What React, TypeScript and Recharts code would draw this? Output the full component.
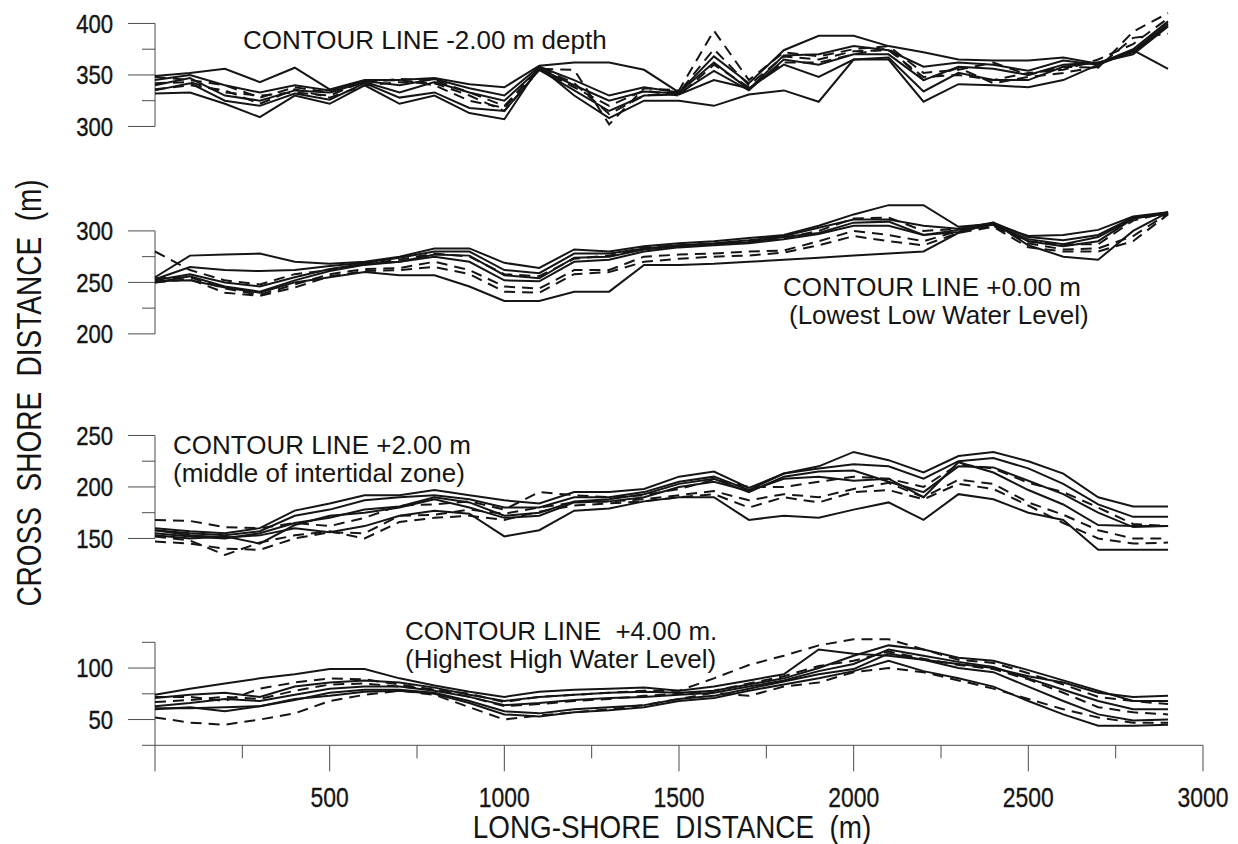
import { LineChart, Line, XAxis, YAxis, ReferenceLine } from "recharts";

// long-shore positions of the surveyed profiles (m)
const X = [0, 100, 200, 300, 400, 500, 600, 700, 800, 900, 1000, 1100, 1200, 1300, 1400, 1500, 1600, 1700, 1800, 1900, 2000, 2100, 2200, 2300, 2400, 2500, 2600, 2700, 2800, 2900];
const X_TICKS = [0, 250, 500, 750, 1000, 1250, 1500, 1750, 2000, 2250, 2500, 2750, 3000];

// contour -2.00 m depth
const P1_TICKS = [300, 325, 350, 375, 400];
const P1_A = [349, 352, 356, 343, 357, 336, 345, 345, 347, 341, 338, 359, 362, 362, 355, 333, 368, 342, 374, 388, 388, 378, 372, 365, 364, 364, 367, 361, 375, 402];
const P1_B = [345, 350, 340, 333, 340, 335, 344, 340, 346, 337, 330, 358, 345, 330, 338, 333, 362, 336, 369, 370, 378, 374, 358, 362, 360, 354, 364, 360, 373, 400];
const P1_C = [340, 347, 330, 325, 335, 333, 343, 333, 343, 333, 325, 356, 340, 325, 334, 332, 354, 335, 365, 360, 370, 370, 345, 358, 356, 350, 360, 362, 372, 398];
const P1_D = [335, 342, 325, 320, 332, 326, 342, 328, 333, 318, 315, 355, 335, 315, 330, 331, 345, 337, 360, 348, 365, 367, 334, 352, 345, 345, 358, 362, 370, 397];
const P1_E = [332, 333, 322, 309, 330, 322, 340, 322, 330, 313, 307, 358, 330, 308, 325, 325, 320, 331, 335, 324, 365, 365, 324, 341, 340, 338, 345, 360, 374, 356];
const P1_F = [348, 345, 340, 328, 338, 333, 343, 346, 345, 333, 320, 356, 355, 302, 337, 335, 393, 345, 372, 368, 375, 378, 352, 355, 362, 350, 358, 357, 392, 410];
const P1_G = [342, 343, 333, 330, 333, 330, 344, 345, 340, 325, 318, 357, 342, 312, 330, 333, 375, 340, 368, 365, 373, 374, 348, 350, 345, 352, 355, 365, 380, 405];
const P1_H = [336, 340, 335, 322, 336, 328, 340, 343, 342, 330, 315, 355, 338, 320, 335, 330, 360, 338, 362, 362, 370, 376, 345, 357, 342, 348, 352, 358, 386, 390];

// contour +0.00 m (lowest low water level)
const P2_TICKS = [200, 225, 250, 275, 300];
const P2_A = [255, 276, 277, 278, 270, 268, 270, 275, 283, 283, 269, 264, 282, 280, 285, 288, 290, 293, 296, 305, 316, 325, 325, 304, 307, 295, 296, 301, 314, 318];
const P2_B = [253, 265, 262, 261, 262, 266, 269, 274, 280, 280, 262, 259, 278, 278, 283, 286, 288, 291, 295, 303, 311, 311, 305, 302, 308, 294, 291, 296, 313, 317];
const P2_C = [252, 258, 250, 246, 255, 263, 268, 270, 277, 276, 257, 254, 274, 275, 282, 285, 287, 289, 294, 298, 308, 309, 296, 301, 306, 292, 287, 294, 312, 318];
const P2_D = [250, 256, 246, 241, 252, 261, 267, 270, 275, 270, 252, 251, 270, 272, 280, 284, 286, 288, 292, 297, 305, 305, 296, 299, 307, 290, 285, 290, 312, 317];
const P2_E = [251, 252, 245, 240, 250, 255, 260, 257, 257, 246, 232, 232, 241, 241, 267, 267, 268, 270, 272, 274, 276, 278, 280, 298, 308, 286, 275, 272, 300, 318];
const P2_F = [280, 262, 252, 248, 258, 262, 268, 272, 278, 275, 258, 256, 273, 276, 284, 286, 287, 290, 293, 300, 312, 313, 300, 302, 305, 290, 287, 287, 310, 318];
const P2_G = [254, 255, 244, 238, 248, 258, 263, 264, 270, 262, 246, 244, 262, 262, 275, 277, 278, 280, 281, 290, 300, 296, 290, 300, 305, 288, 282, 283, 295, 317];
const P2_H = [250, 253, 240, 237, 245, 256, 261, 262, 265, 258, 241, 240, 258, 260, 270, 273, 275, 276, 279, 286, 295, 290, 286, 298, 304, 284, 280, 280, 290, 316];

// contour +2.00 m (middle of intertidal zone)
const P3_TICKS = [150, 175, 200, 225, 250];
const P3_A = [160, 157, 155, 160, 177, 184, 192, 192, 197, 192, 187, 184, 195, 195, 198, 210, 215, 199, 213, 220, 234, 226, 214, 230, 234, 225, 213, 190, 181, 181];
const P3_B = [158, 155, 153, 157, 172, 178, 187, 190, 192, 188, 180, 180, 190, 190, 195, 205, 210, 197, 213, 218, 222, 220, 208, 225, 228, 218, 203, 183, 171, 171];
const P3_C = [155, 152, 150, 155, 165, 170, 178, 181, 190, 185, 172, 175, 186, 188, 193, 203, 208, 195, 210, 215, 216, 205, 195, 220, 219, 206, 193, 175, 161, 162];
const P3_D = [153, 150, 152, 145, 163, 172, 175, 180, 188, 180, 170, 172, 185, 186, 190, 200, 205, 196, 208, 210, 206, 208, 190, 224, 214, 197, 183, 163, 162, 162];
const P3_E = [158, 153, 151, 153, 160, 156, 162, 172, 177, 174, 152, 158, 177, 179, 186, 190, 190, 168, 172, 170, 178, 185, 168, 193, 188, 175, 168, 139, 139, 139];
const P3_F = [168, 167, 161, 160, 165, 162, 170, 182, 183, 186, 178, 195, 192, 190, 192, 198, 207, 200, 200, 205, 210, 208, 200, 222, 218, 204, 195, 180, 164, 162];
const P3_G = [147, 145, 140, 139, 150, 156, 155, 172, 173, 178, 174, 180, 185, 186, 188, 192, 196, 187, 193, 190, 198, 204, 190, 207, 203, 185, 173, 158, 150, 150];
const P3_H = [152, 148, 134, 146, 153, 157, 150, 166, 170, 172, 168, 176, 182, 184, 186, 190, 193, 180, 190, 185, 195, 197, 188, 203, 198, 182, 165, 150, 145, 146];

// contour +4.00 m (highest high water level)
const P4_TICKS = [25, 50, 75, 100, 125];
const P4_A = [74, 80, 85, 90, 94, 99, 99, 90, 83, 77, 72, 77, 79, 80, 81, 78, 82, 88, 94, 118, 114, 112, 108, 104, 100, 92, 86, 76, 72, 73];
const P4_B = [71, 74, 76, 72, 82, 86, 88, 86, 81, 74, 68, 72, 74, 76, 77, 76, 78, 84, 90, 100, 112, 122, 118, 110, 107, 98, 88, 78, 68, 68];
const P4_C = [63, 66, 70, 68, 74, 80, 82, 82, 78, 72, 64, 66, 69, 71, 72, 74, 76, 82, 88, 97, 104, 118, 112, 106, 101, 90, 79, 68, 60, 60];
const P4_D = [60, 62, 58, 63, 69, 76, 79, 79, 76, 68, 58, 56, 60, 62, 64, 70, 73, 80, 87, 94, 99, 114, 108, 100, 96, 82, 68, 55, 49, 50];
const P4_E = [61, 61, 62, 63, 70, 73, 77, 78, 75, 66, 55, 53, 57, 59, 62, 68, 71, 78, 84, 90, 97, 107, 97, 90, 82, 68, 55, 44, 44, 45];
const P4_F = [72, 72, 68, 80, 86, 90, 89, 84, 79, 75, 67, 72, 74, 76, 78, 78, 90, 103, 112, 122, 128, 128, 118, 108, 105, 95, 84, 72, 68, 65];
const P4_G = [52, 47, 45, 50, 56, 68, 74, 78, 74, 62, 50, 54, 57, 60, 64, 70, 76, 73, 82, 86, 96, 100, 96, 88, 80, 70, 60, 52, 47, 47];
const P4_H = [67, 69, 72, 70, 78, 84, 85, 82, 79, 72, 63, 65, 68, 70, 73, 75, 78, 85, 92, 102, 107, 116, 109, 103, 99, 89, 76, 62, 57, 55];

const PX_PER_M = 1.03;
const INK = "#151515";
const AXIS = "#4a4a4a";
const SANS = "'Liberation Sans', Arial, sans-serif";
const NB = "\u00a0";

type Series = { key: string; values: number[]; dashed?: boolean };
type PanelDef = { id: string; top: number; domain: [number, number]; ticks: number[]; series: Series[] };

// first five profiles are drawn solid, the rest dashed
const solidDashed = (vals: number[][]): Series[] =>
  vals.map((v, i) => ({ key: "s" + i, values: v, dashed: i >= 5 }));

const panels: PanelDef[] = [
  { id: "p1", top: 23 - 15 * PX_PER_M, domain: [285, 415], ticks: P1_TICKS, series: solidDashed([P1_A, P1_B, P1_C, P1_D, P1_E, P1_F, P1_G, P1_H]) },
  { id: "p2", top: 231 - 30 * PX_PER_M, domain: [185, 330], ticks: P2_TICKS, series: solidDashed([P2_A, P2_B, P2_C, P2_D, P2_E, P2_F, P2_G, P2_H]) },
  { id: "p3", top: 435 - 15 * PX_PER_M, domain: [130, 265], ticks: P3_TICKS, series: solidDashed([P3_A, P3_B, P3_C, P3_D, P3_E, P3_F, P3_G, P3_H]) },
  { id: "p4", top: 642 - 10 * PX_PER_M, domain: [25, 135], ticks: P4_TICKS, series: solidDashed([P4_A, P4_B, P4_C, P4_D, P4_E, P4_F, P4_G, P4_H]) },
];

const YTick = (props: any) => {
  const { x, y, payload } = props;
  const major = payload.value % 50 === 0;
  return (
    <g>
      <line x1={x - (major ? 27 : 13)} x2={x} y1={y} y2={y} stroke={AXIS} strokeWidth={1} />
      {major && (
        <text
          transform={`translate(${x - 42},${y}) scale(0.85,1)`}
          textAnchor="end"
          dominantBaseline="central"
          fontFamily={SANS}
          fontSize={26}
          fill={INK}
          stroke={INK}
          strokeWidth={0.4}
        >
          {payload.value}
        </text>
      )}
    </g>
  );
};

const XTick = (props: any) => {
  const { x, y, payload } = props;
  const major = payload.value % 500 === 0;
  return (
    <g>
      <line x1={x} x2={x} y1={y} y2={y + (major ? 26 : 13)} stroke={AXIS} strokeWidth={1} />
      {major && payload.value > 0 && (
        <text
          transform={`translate(${x},${y + 52}) scale(0.85,1)`}
          textAnchor="middle"
          dominantBaseline="central"
          fontFamily={SANS}
          fontSize={27}
          fill={INK}
          stroke={INK}
          strokeWidth={0.3}
        >
          {payload.value}
        </text>
      )}
    </g>
  );
};

const Panel = ({ p, last }: { p: PanelDef; last: boolean }) => {
  const [lo, hi] = p.domain;
  const plotH = (hi - lo) * PX_PER_M;
  const axisH = last ? 844 - (p.top + plotH) : 0;
  const rows = X.map((x, i) => {
    const r: any = { x };
    p.series.forEach((s) => (r[s.key] = s.values[i]));
    return r;
  });
  return (
    <div style={{ position: "absolute", left: 0, top: p.top }}>
      <LineChart width={1238} height={plotH + axisH} data={rows} margin={{ top: 0, right: 35, bottom: 0, left: 0 }}>
        <XAxis
          type="number"
          dataKey="x"
          domain={[0, 3000]}
          ticks={X_TICKS}
          interval={0}
          hide={!last}
          height={axisH}
          stroke={AXIS}
          tickSize={0}
          tickMargin={0}
          tickLine={false}
          tick={<XTick />}
        />
        <YAxis type="number" domain={p.domain} ticks={p.ticks} interval={0} width={155} axisLine={false} tickLine={false} tickSize={0} tickMargin={0} tick={<YTick />} />
        <ReferenceLine segment={[{ x: 0, y: p.ticks[0] }, { x: 0, y: p.ticks[p.ticks.length - 1] }]} stroke={AXIS} strokeWidth={1} />
        {p.series.map((s) => (
          <Line
            key={s.key}
            type="linear"
            dataKey={s.key}
            stroke={INK}
            strokeWidth={2}
            strokeDasharray={s.dashed ? "11 7" : undefined}
            dot={false}
            isAnimationActive={false}
          />
        ))}
      </LineChart>
    </div>
  );
};

const note = (text: string, left: number, midY: number) => (
  <div
    key={text}
    style={{ position: "absolute", left, top: midY - 13, fontFamily: SANS, fontSize: 26, lineHeight: "26px", color: INK, whiteSpace: "pre" }}
  >
    {text}
  </div>
);

export default function App() {
  return (
    <div style={{ position: "absolute", left: 0, top: 0, width: 1238, height: 844, background: "#fff", overflow: "hidden" }}>
      {panels.map((p, i) => (
        <Panel key={p.id} p={p} last={i === panels.length - 1} />
      ))}
      {note("CONTOUR LINE -2.00 m depth", 243, 40)}
      {note("CONTOUR LINE +0.00 m", 783, 287)}
      {note("(Lowest Low Water Level)", 789, 315)}
      {note("CONTOUR LINE +2.00 m", 173, 445)}
      {note("(middle of intertidal zone)", 173, 473)}
      {note("CONTOUR LINE  +4.00 m.", 405, 631)}
      {note("(Highest High Water Level)", 405, 659)}
      <svg width={1238} height={844} style={{ position: "absolute", left: 0, top: 0, pointerEvents: "none" }}>
        <text
          transform="translate(29,393) rotate(-90) scale(0.8,1)"
          textAnchor="middle"
          dominantBaseline="central"
          fontFamily={SANS}
          fontSize={35}
          fill={INK}
        >
          {`CROSS${NB}${NB}SHORE${NB}${NB}DISTANCE${NB}${NB}(m)`}
        </text>
        <text
          transform="translate(672,827) scale(0.87,1)"
          textAnchor="middle"
          dominantBaseline="central"
          fontFamily={SANS}
          fontSize={32}
          fill={INK}
        >
          {`LONG-SHORE${NB}${NB}DISTANCE${NB}${NB}(m)`}
        </text>
      </svg>
    </div>
  );
}
